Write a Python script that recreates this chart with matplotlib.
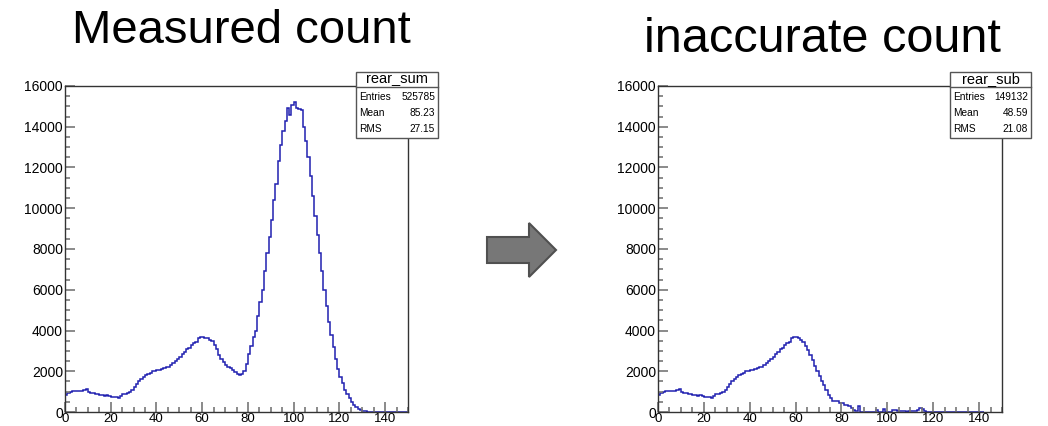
import matplotlib
matplotlib.use("Agg")
import matplotlib.pyplot as plt
import numpy as np
from matplotlib.patches import Rectangle, Polygon
from matplotlib.ticker import MultipleLocator

plt.rcParams['font.family'] = ['Liberation Sans', 'DejaVu Sans']

# ---- data (bin width 1, bins starting at 0) ----
rear_sum = [
    850, 950, 1000, 1040, 1050, 1050, 1050, 1040, 1100, 1130,
    1000, 920, 920, 900, 880, 850, 820, 800, 820, 780,
    760, 750, 720, 700, 780, 860, 900, 950, 1000, 1100,
    1250, 1380, 1500, 1600, 1720, 1800, 1850, 1920, 2000, 2030,
    2050, 2080, 2130, 2150, 2200, 2220, 2300, 2400, 2480, 2600,
    2700, 2850, 2950, 3100, 3150, 3300, 3400, 3450, 3650, 3700,
    3680, 3650, 3620, 3550, 3500, 3300, 3100, 2800, 2600, 2450,
    2300, 2200, 2150, 2050, 1950, 1880, 1800, 1850, 2000, 2350,
    2850, 3250, 3700, 4000, 4700, 5400, 6000, 6900, 7800, 8600,
    9400, 10400, 11200, 12300, 13100, 13800, 14300, 14900, 14600, 15050,
    15230, 14900, 14850, 14800, 14000, 13300, 12500, 11600, 10600, 9600,
    8700, 7800, 6900, 6000, 5200, 4400, 3800, 3200, 2600, 2100,
    1700, 1400, 1100, 900, 680, 500, 350, 250, 170, 100,
    60, 30, 15, 8, 3, 0, 0, 0, 0, 0,
    0, 0, 0, 0, 0, 0, 0, 0, 0, 0,
]
rear_sub = rear_sum[:61] + [
    3620, 3550, 3450, 3250, 3060, 2810, 2570, 2240, 1990,
    1750, 1500, 1340, 1100, 850, 690, 520, 520, 520, 440,
    440, 360, 340, 280, 200, 115, 30, 300, 0, 0,
    0, 0, 0, 0, 0, 100, 0, 0, 130, 0,
    0, 0, 100, 80, 50, 50, 50, 50, 0, 50,
    50, 50, 50, 100, 180, 130, 50, 0, 0, 0,
    20, 0, 0, 0, 0, 0, 0, 0, 0, 0,
    0, 0, 0, 0, 0, 0, 0, 0, 0, 0,
    0, 0,
]
rear_sub = rear_sub[:150]

titles = ["Measured count", "inaccurate count"]
hist_names = ["rear_sum", "rear_sub"]
stats = [("525785", "85.23", "27.15"), ("149132", "48.59", "21.08")]
stat_labels = ["Entries", "Mean", "RMS"]

W, H = 1048, 426
fig = plt.figure(figsize=(W / 100, H / 100), dpi=100)

def fx(px):
    return px / W

def fy(py):
    return 1 - py / H

axes_px = [(65, 408), (658, 1002)]
top_px, bot_px = 86, 412
title_pos = [(241, 31), (822, 40)]
title_size = [34, 35]
box_px = [(356, 438), (950, 1031)]

line_col = '#2020b0'
frame_col = '#333333'
tick_col = '#777777'

for i, data in enumerate([rear_sum, rear_sub]):
    x0, x1 = axes_px[i]
    ax = fig.add_axes([fx(x0), fy(bot_px), fx(x1 - x0), (bot_px - top_px) / H])
    edges = np.arange(len(data) + 1)
    ax.stairs(data, edges, color=line_col, lw=1.1)
    ax.set_xlim(0, 150)
    ax.set_ylim(0, 16000)
    ax.xaxis.set_major_locator(MultipleLocator(20))
    ax.xaxis.set_minor_locator(MultipleLocator(5))
    ax.yaxis.set_major_locator(MultipleLocator(2000))
    ax.yaxis.set_minor_locator(MultipleLocator(500))
    ax.tick_params(which='both', direction='in', color=tick_col, width=1.2,
                   labelsize=10, top=False, right=False)
    ax.tick_params(which='major', length=7)
    ax.tick_params(which='minor', length=3.5)
    ax.tick_params(axis='x', pad=0.5, labelsize=9.5)
    ax.tick_params(axis='y', pad=1.5)
    for s in ax.spines.values():
        s.set_color(frame_col)
        s.set_linewidth(1.0)

    # title
    tx, ty = title_pos[i]
    fig.text(fx(tx), fy(ty), titles[i], fontsize=title_size[i], ha='center', va='center')

    # stats box
    bx0, bx1 = box_px[i]
    by0, by1, bdiv = 72, 138, 87
    fig.patches.append(Rectangle((fx(bx0), fy(by1)), fx(bx1 - bx0), (by1 - by0) / H,
                                 transform=fig.transFigure, facecolor='white',
                                 edgecolor='#555555', lw=1.0, zorder=5))
    fig.lines.append(plt.Line2D([fx(bx0), fx(bx1)], [fy(bdiv), fy(bdiv)],
                                transform=fig.transFigure, color='#555555', lw=1.0, zorder=6))
    fig.text(fx((bx0 + bx1) / 2), fy(79.5), hist_names[i], fontsize=10.5,
             ha='center', va='center', zorder=7)
    for k, (lab, val) in enumerate(zip(stat_labels, stats[i])):
        yy = 96.5 + k * 16.5
        fig.text(fx(bx0 + 3), fy(yy), lab, fontsize=7.3, ha='left', va='center', zorder=7)
        fig.text(fx(bx1 - 3), fy(yy), val, fontsize=7.3, ha='right', va='center', zorder=7)

# arrow
arrow_px = [(487, 237), (529, 237), (529, 223), (556, 250), (529, 277), (529, 263), (487, 263)]
fig.patches.append(Polygon([(fx(a), fy(b)) for a, b in arrow_px], closed=True,
                           transform=fig.transFigure, facecolor='#777777',
                           edgecolor='#505050', lw=1.5))

fig.savefig("out.png", dpi=100)
